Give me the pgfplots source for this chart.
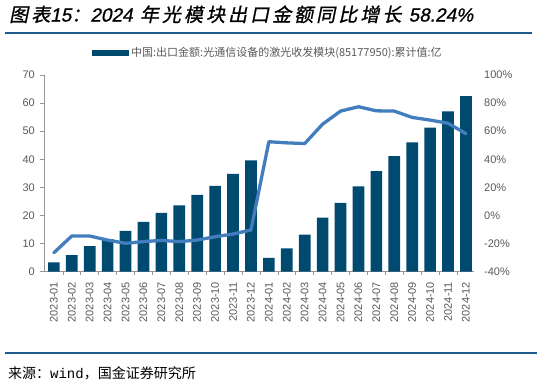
\documentclass[border=0pt]{standalone}
\usepackage{pgfplots}
\pgfplotsset{compat=1.18}
\usepackage{fontspec}
\setmainfont{Liberation Sans}
\newfontfamily\cjk{Noto Sans CJK SC}
\newfontfamily\titlecjk[FakeSlant=0.2,LetterSpace=16,FakeBold=1]{Noto Sans CJK SC}
\newfontfamily\titlelat[FakeSlant=0.2,FakeBold=1]{Liberation Sans}
\newfontfamily\monof{Liberation Mono}
\definecolor{barcol}{RGB}{0,74,112}
\definecolor{linecol}{RGB}{66,126,189}
\definecolor{rulecol}{RGB}{31,90,140}
\definecolor{txtgray}{RGB}{89,89,89}
\definecolor{axgray}{RGB}{150,150,150}

\pgfplotstableread{
x val
0 3.3
1 5.9
2 9.1
3 11.6
4 14.5
5 17.7
6 20.9
7 23.6
8 27.3
9 30.5
10 34.8
11 39.6
12 4.9
13 8.3
14 13.2
15 19.2
16 24.5
17 30.4
18 35.8
19 41.1
20 46.0
21 51.3
22 57.1
23 62.5
}\bars

\pgfplotstableread{
x yoy
0 -26.5
1 -14.6
2 -14.6
3 -17.5
4 -19.8
5 -18.6
6 -17.7
7 -18.6
8 -17.5
9 -15.1
10 -13.2
11 -10.3
12 52.5
13 51.7
14 51.2
15 65.0
16 74.3
17 77.4
18 74.5
19 74.3
20 69.8
21 67.9
22 65.7
23 58.24
}\yoy

\begin{document}
\begin{tikzpicture}
\useasboundingbox (0bp,0bp) rectangle (541bp,383bp);
\draw[rulecol, line width=1.6bp] (5bp,349.7bp) -- (532bp,349.7bp);
\draw[rulecol, line width=1.6bp] (5bp,29.7bp) -- (537bp,29.7bp);
\node[anchor=west, inner sep=0] at (9bp,368.7bp) {\titlecjk\fontsize{19bp}{22bp}\selectfont 图表{\titlelat 15}：{\titlelat 2024} 年光模块出口金额同比增长 {\titlelat 58.24\%}};
\node[anchor=west, inner sep=0] at (8bp,10bp) {\cjk\fontsize{14bp}{16bp}\selectfont 来源：{\monof wind}，国金证券研究所};

\begin{axis}[
  at={(44bp,111.3bp)}, anchor=south west, scale only axis,
  width=430bp, height=196.7bp,
  xmin=-0.55, xmax=23.45, ymin=0, ymax=70,
  ytick={0,10,...,70},
  axis x line*=bottom, axis y line*=left,
  axis line style={draw=axgray, line width=0.8bp},
  tick align=outside,
  xtick={0,...,23},
  xticklabels={2023-01,2023-02,2023-03,2023-04,2023-05,2023-06,2023-07,2023-08,2023-09,2023-10,2023-11,2023-12,2024-01,2024-02,2024-03,2024-04,2024-05,2024-06,2024-07,2024-08,2024-09,2024-10,2024-11,2024-12},
  minor xtick={0.5,1.5,...,22.5},
  major x tick style={draw=none},
  minor x tick style={draw=axgray, line width=0.6bp},
  minor tick length=3bp,
  major y tick style={draw=axgray, line width=0.6bp},
  major tick length=4bp,
  /pgf/number format/assume math mode=true,
  tick label style={font=\fontsize{11bp}{13bp}\selectfont, text=txtgray},
  xticklabel style={rotate=90, anchor=east, inner sep=1bp},
  xticklabel shift=5bp,
  yticklabel style={inner sep=1bp},
  yticklabel shift=4bp,
  legend style={at={(0.1116,1.112)}, anchor=west, draw=none, fill=none, inner sep=0pt,
     font=\cjk\fontsize{11bp}{13bp}\selectfont, text=txtgray,
     nodes={inner sep=2bp}},
  legend image code/.code={\fill[barcol] (0bp,-2.8bp) rectangle (37bp,2.8bp);},
]
\addplot[ybar, bar width=11.7bp, fill=barcol, draw=none] table[x=x,y=val] {\bars};
\addlegendentry{中国:出口金额:光通信设备的激光收发模块(85177950):累计值:亿}
\end{axis}

\begin{axis}[
  at={(44bp,111.3bp)}, anchor=south west, scale only axis,
  width=430bp, height=196.7bp,
  xmin=-0.55, xmax=23.45, ymin=-40, ymax=100,
  ytick={-40,-20,...,100},
  hide x axis,
  axis y line*=right,
  y axis line style={draw=none},
  major tick length=0pt,
  /pgf/number format/assume math mode=true,
  yticklabel={\pgfmathprintnumber{\tick}\%},
  yticklabel style={font=\fontsize{11bp}{13bp}\selectfont, text=txtgray, inner sep=1bp},
  yticklabel shift=9bp,
]
\addplot[linecol, line width=3.3bp, line join=round, line cap=round] table[x=x,y=yoy] {\yoy};
\end{axis}
\end{tikzpicture}
\end{document}
